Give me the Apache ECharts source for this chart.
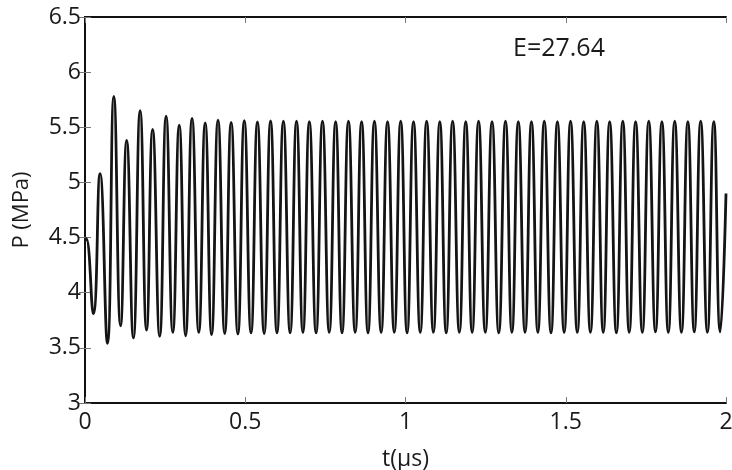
<!DOCTYPE html>
<html>
<head>
<meta charset="utf-8">
<script src="https://cdn.jsdelivr.net/npm/echarts@6/dist/echarts.min.js"></script>
<style>
  html, body { margin: 0; padding: 0; background: #fff; }
  #chart { width: 732px; height: 470px; }
</style>
</head>
<body>
<div id="chart"></div>
<script>
// pressure oscillation (t in µs, P in MPa)
var startT = [0, 0.004];
var startP = [4.475, 4.49];

var troughT = [0.026, 0.070, 0.111, 0.151, 0.192, 0.233, 0.274, 0.314, 0.355, 0.395,
  0.436, 0.477, 0.518, 0.559, 0.599, 0.640, 0.680, 0.721, 0.762, 0.802,
  0.843, 0.883, 0.924, 0.965, 1.005, 1.046, 1.087, 1.127, 1.168, 1.208,
  1.249, 1.291, 1.332, 1.373, 1.413, 1.454, 1.495, 1.536, 1.577, 1.617,
  1.658, 1.698, 1.739, 1.780, 1.820, 1.861, 1.901, 1.942, 1.982];
var troughP = [3.81, 3.54, 3.70, 3.59, 3.66, 3.605, 3.64, 3.61, 3.64, 3.62,
  3.63, 3.625, 3.635, 3.63, 3.635, 3.635, 3.64, 3.635, 3.64, 3.635,
  3.64, 3.635, 3.64, 3.64, 3.635, 3.64, 3.64, 3.635, 3.64, 3.64,
  3.64, 3.635, 3.64, 3.64, 3.64, 3.635, 3.64, 3.64, 3.64, 3.64,
  3.635, 3.64, 3.64, 3.645, 3.64, 3.64, 3.645, 3.64, 3.645];

var peakT = [0.047, 0.090, 0.130, 0.172, 0.211, 0.253, 0.294, 0.334, 0.375, 0.415,
  0.456, 0.497, 0.538, 0.579, 0.619, 0.660, 0.700, 0.741, 0.782, 0.822,
  0.863, 0.903, 0.944, 0.985, 1.025, 1.066, 1.107, 1.147, 1.188, 1.228,
  1.270, 1.312, 1.352, 1.393, 1.433, 1.474, 1.515, 1.556, 1.597, 1.637,
  1.678, 1.718, 1.759, 1.800, 1.840, 1.881, 1.921, 1.962];
var peakP = [5.08, 5.78, 5.38, 5.65, 5.48, 5.60, 5.52, 5.58, 5.54, 5.565,
  5.545, 5.56, 5.548, 5.557, 5.555, 5.555, 5.55, 5.555, 5.55, 5.555,
  5.55, 5.555, 5.55, 5.555, 5.55, 5.555, 5.55, 5.555, 5.55, 5.555,
  5.55, 5.555, 5.55, 5.55, 5.555, 5.55, 5.555, 5.55, 5.555, 5.55,
  5.555, 5.55, 5.555, 5.55, 5.555, 5.55, 5.555, 5.55];

var endT = [2.0];
var endP = [4.9];

var yTicks = [3, 3.5, 4, 4.5, 5, 5.5, 6, 6.5];
var xTicks = [0, 0.5, 1, 1.5, 2];

var pts = [];
for (var i = 0; i < startT.length; i++) pts.push([startT[i], startP[i]]);
for (var i = 0; i < troughT.length; i++) {
  pts.push([troughT[i], troughP[i]]);
  if (i < peakT.length) pts.push([peakT[i], peakP[i]]);
}
for (var i = 0; i < endT.length; i++) pts.push([endT[i], endP[i]]);

var font = 'Open Sans';
var ink = '#1a1a1a';
var chart = echarts.init(document.getElementById('chart'));

function boxAxis(pos, mn, mx, iv) {
  return {
    type: 'value', position: pos, min: mn, max: mx, interval: iv,
    axisLine: { show: true, lineStyle: { color: '#111', width: 2 } },
    axisTick: { show: true, inside: true, length: 6, lineStyle: { color: '#777', width: 1 } },
    axisLabel: { show: false },
    splitLine: { show: false }
  };
}

chart.setOption({
  animation: false,
  grid: { left: 85, right: 6, top: 17, bottom: 67, outerBoundsMode: 'none', containLabel: false },
  xAxis: [
    {
      type: 'value', min: xTicks[0], max: xTicks[xTicks.length - 1], interval: 0.5,
      name: 't(μs)', nameLocation: 'middle', nameGap: 45,
      nameTextStyle: { fontFamily: font, fontSize: 23, color: ink },
      axisLine: { lineStyle: { color: '#111', width: 2 } },
      axisTick: { inside: true, length: 6, lineStyle: { color: '#777', width: 1 } },
      axisLabel: { fontFamily: font, fontSize: 23, color: ink, margin: 8 },
      splitLine: { show: false }
    },
    boxAxis('top', 0, 2, 0.5)
  ],
  yAxis: [
    {
      type: 'value', min: yTicks[0], max: yTicks[yTicks.length - 1], interval: 0.5,
      name: 'P (MPa)', nameLocation: 'middle', nameGap: 52, nameRotate: 90,
      nameTextStyle: { fontFamily: font, fontSize: 22, color: ink },
      axisLine: { lineStyle: { color: '#111', width: 2 } },
      axisTick: { inside: true, length: 6, lineStyle: { color: '#777', width: 1 } },
      axisLabel: { fontFamily: font, fontSize: 23, color: ink, margin: 4 },
      splitLine: { show: false }
    },
    boxAxis('right', 3, 6.5, 0.5)
  ],
  graphic: [{
    type: 'text', left: 513, top: 36,
    style: { text: 'E=27.64', fontFamily: font, fontSize: 25, fill: ink }
  }],
  series: [{
    type: 'line',
    data: pts,
    showSymbol: false,
    smooth: 0.5,
    lineStyle: { color: '#141414', width: 2.8 }
  }]
});
</script>
</body>
</html>
